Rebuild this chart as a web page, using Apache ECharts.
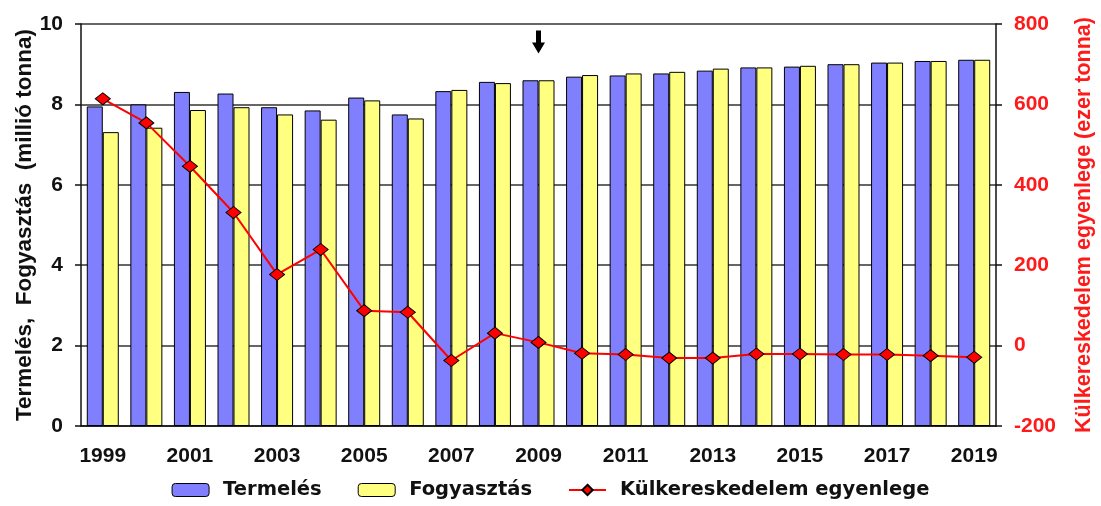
<!DOCTYPE html>
<html>
<head>
<meta charset="utf-8">
<script src="https://cdn.jsdelivr.net/npm/echarts@6/dist/echarts.min.js"></script>
<style>
  html, body { margin: 0; padding: 0; background: #fff; }
  #chart { width: 1101px; height: 506px; }
</style>
</head>
<body>
<div id="chart"></div>
<script>
const years = ['1999', '2000', '2001', '2002', '2003', '2004', '2005', '2006', '2007', '2008', '2009',
  '2010', '2011', '2012', '2013', '2014', '2015', '2016', '2017', '2018', '2019'];

// millió tonna
const termeles = [7.95, 8.0, 8.31, 8.27, 7.93, 7.85, 8.17, 7.75, 8.33, 8.56, 8.6,
  8.69, 8.72, 8.77, 8.84, 8.92, 8.94, 9.0, 9.04, 9.08, 9.11];
const fogyasztas = [7.31, 7.42, 7.86, 7.93, 7.75, 7.62, 8.1, 7.65, 8.36, 8.53, 8.6,
  8.73, 8.77, 8.81, 8.89, 8.92, 8.96, 9.0, 9.04, 9.08, 9.11];

// ezer tonna
const egyenleg = [614, 554, 446, 331, 177, 239, 87, 83, -37, 31, 8,
  -19, -22, -31, -31, -21, -21, -22, -22, -25, -29];

// arrow marking the last actual year
const arrowYear = '2009';
const arrowValue = 755;

const FONT = 'Liberation Sans, Arial, sans-serif';

const chart = echarts.init(document.getElementById('chart'), null, { renderer: 'canvas' });

chart.setOption({
  animation: false,
  backgroundColor: '#fff',
  grid: { left: 81, right: 105, top: 24, bottom: 80, outerBoundsMode: 'none', containLabel: false },
  legend: {
    bottom: 1,
    left: 'center',
    itemWidth: 37,
    itemHeight: 13,
    itemGap: 36,
    textStyle: {
      fontFamily: 'DejaVu Sans, sans-serif',
      fontWeight: 'bold',
      fontSize: 19.5,
      color: '#111',
      padding: [0, 0, 0, 9],
    },
    data: [
      { name: 'Termelés', itemStyle: { borderColor: '#000', borderWidth: 1 } },
      { name: 'Fogyasztás', itemStyle: { borderColor: '#000', borderWidth: 1 } },
      { name: 'Külkereskedelem egyenlege' },
    ],
  },
  xAxis: {
    type: 'category',
    data: years,
    boundaryGap: true,
    axisLine: { lineStyle: { color: '#111', width: 1.5 } },
    axisTick: { interval: 0, length: 6, lineStyle: { color: '#111', width: 1.5 } },
    axisLabel: {
      interval: 1,
      margin: 20,
      fontFamily: FONT,
      fontWeight: 'bold',
      fontSize: 21,
      color: '#111',
    },
  },
  yAxis: [
    {
      type: 'value',
      min: 0,
      max: 10,
      interval: 2,
      name: 'Termelés,  Fogyasztás  (millió tonna)',
      nameLocation: 'middle',
      nameRotate: 90,
      nameGap: 45,
      nameMoveOverlap: false,
      nameTextStyle: {
        fontFamily: FONT,
        fontWeight: 'bold',
        fontSize: 22.5,
        color: '#111',
      },
      axisLine: { show: true, lineStyle: { color: '#111', width: 1.5 } },
      axisTick: { show: true, length: 6, lineStyle: { color: '#111', width: 1.5 } },
      axisLabel: {
        margin: 18,
        fontFamily: FONT,
        fontWeight: 'bold',
        fontSize: 21,
        color: '#111',
      },
      splitLine: { lineStyle: { color: '#333', width: 1.5 } },
    },
    {
      type: 'value',
      min: -200,
      max: 800,
      interval: 200,
      position: 'right',
      name: 'Külkereskedelem egyenlege (ezer tonna)',
      nameLocation: 'middle',
      nameRotate: 90,
      nameGap: 77,
      nameTextStyle: {
        fontFamily: FONT,
        fontWeight: 'bold',
        fontSize: 21.5,
        color: '#ff1a1a',
      },
      axisLine: { show: true, lineStyle: { color: '#111', width: 1.5 } },
      axisTick: { show: true, length: 6, lineStyle: { color: '#111', width: 1.5 } },
      axisLabel: {
        margin: 18,
        fontFamily: FONT,
        fontWeight: 'bold',
        fontSize: 21,
        color: '#ff1a1a',
      },
      splitLine: { show: false },
    },
  ],
  series: [
    {
      name: 'Termelés',
      type: 'bar',
      data: termeles,
      barWidth: 16,
      barGap: '0%',
      itemStyle: { color: '#8080ff', borderColor: '#000', borderWidth: 1 },
    },
    {
      name: 'Fogyasztás',
      type: 'bar',
      data: fogyasztas,
      barWidth: 16,
      barGap: '0%',
      itemStyle: { color: '#ffff80', borderColor: '#000', borderWidth: 1 },
    },
    {
      name: 'Külkereskedelem egyenlege',
      type: 'line',
      yAxisIndex: 1,
      data: egyenleg,
      z: 5,
      symbol: 'diamond',
      symbolSize: [15, 12],
      lineStyle: { color: '#ff0000', width: 2 },
      itemStyle: { color: '#ff0000', borderColor: '#000', borderWidth: 1 },
      markPoint: {
        silent: true,
        symbol: 'path://M4,0 L9,0 L9,12 L13,12 L6.5,23 L0,12 L4,12 Z',
        symbolSize: [13, 23],
        itemStyle: { color: '#000', borderWidth: 0 },
        label: { show: false },
        data: [{ coord: [arrowYear, arrowValue] }],
      },
    },
  ],
});
</script>
</body>
</html>
